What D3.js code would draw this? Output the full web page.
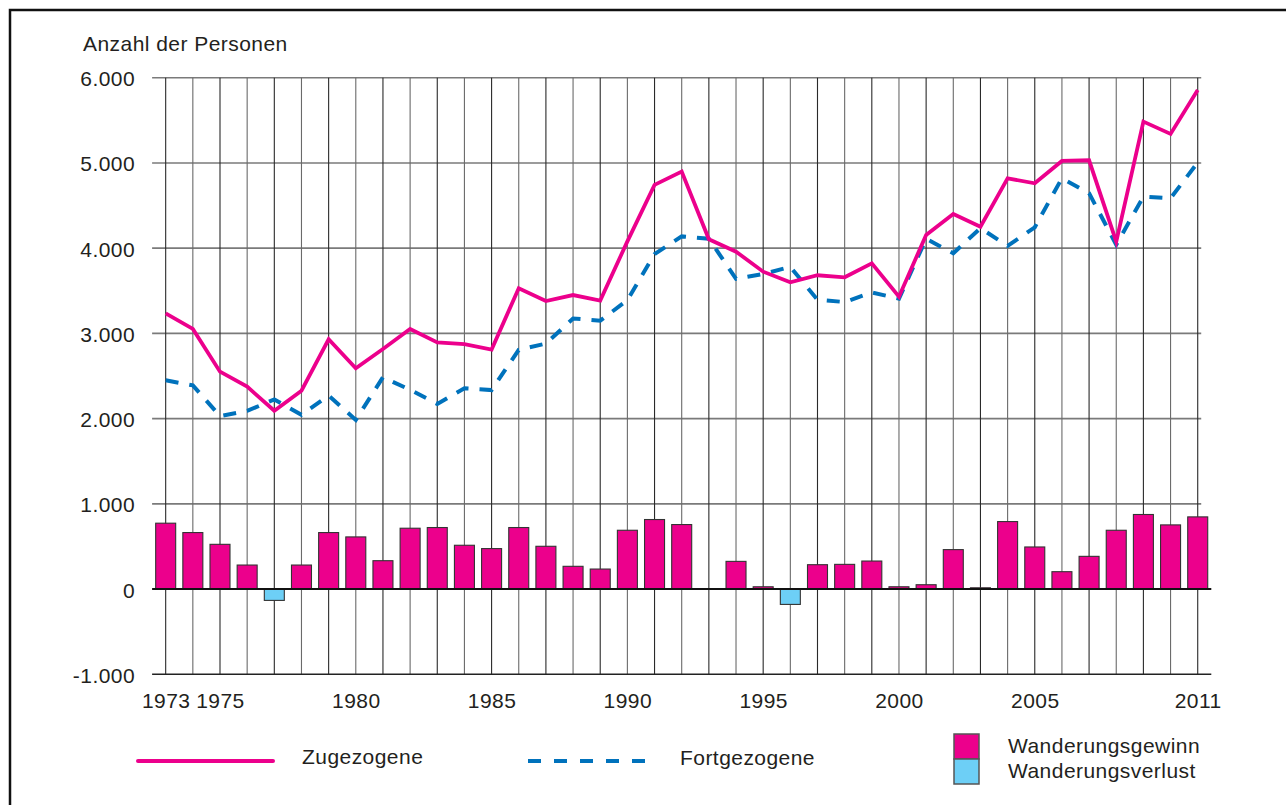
<!DOCTYPE html>
<html>
<head>
<meta charset="utf-8">
<script src="https://cdn.jsdelivr.net/npm/d3@7"></script>
<style>
  html, body { margin: 0; padding: 0; background: #fff; }
  svg { display: block; }
  text { font-family: "Liberation Sans", Arial, Helvetica, sans-serif; fill: #231F20; letter-spacing: 0.45px; }
</style>
</head>
<body>
<svg id="chart" width="1286" height="805"></svg>
<script>
// ---- Data ----
const years = [1973,1974,1975,1976,1977,1978,1979,1980,1981,1982,1983,1984,1985,1986,1987,1988,1989,1990,
  1991,1992,1993,1994,1995,1996,1997,1998,1999,2000,2001,2002,2003,2004,2005,2006,2007,2008,2009,2010,2011];
const zugezogene = [3236,3052,2551,2375,2093,2328,2931,2590,2817,3052,2895,2875,2810,3529,3380,3450,3384,4080,
  4742,4898,4104,3959,3724,3600,3682,3658,3822,3431,4155,4401,4252,4820,4761,5023,5031,4076,5485,5340,5857];
const fortgezogene = [2450,2390,2030,2090,2225,2045,2270,1985,2485,2338,2173,2355,2335,2807,2880,3175,3149,3390,
  3930,4138,4110,3640,3697,3780,3394,3368,3480,3408,4110,3940,4235,4027,4245,4820,4645,4040,4605,4586,5005];
const saldo = [773,663,525,282,-133,282,663,612,333,714,722,514,475,722,502,267,235,690,
  816,757,5,325,27,-180,286,290,329,27,51,463,15,792,494,204,384,690,875,753,847];
const yTicks = [-1000,0,1000,2000,3000,4000,5000,6000];
const xTickYears = [1973,1975,1980,1985,1990,1995,2000,2005,2011];
const seriesNames = ["Zugezogene","Fortgezogene"];
const barNames = ["Wanderungsgewinn","Wanderungsverlust"];
const yTitle = "Anzahl der Personen";

// ---- Styles ----
const PINK = "#EC008C", BLUE = "#0072BC", LIGHTBLUE = "#6DCFF6";
const FS = 21;

const svg = d3.select("#chart");
const x = d3.scaleLinear().domain([1972.5, 2011.5]).range([152.1, 1211.3]);
const y = d3.scaleLinear().domain([-1000, 6000]).range([674.3, 77.7]);
const de = d3.formatLocale({decimal: ",", thousands: ".", grouping: [3], currency: ["", "€"], minus: "-"});
const fmt = de.format(",d");

// frame
svg.append("rect").attr("x", 10).attr("y", 10).attr("width", 1300).attr("height", 820)
  .attr("fill", "none").attr("stroke", "#111").attr("stroke-width", 2.5);

// horizontal grid
const g = svg.append("g");
g.selectAll("line.h").data(yTicks.filter(v => v > 0)).join("line")
  .attr("x1", x(1972.5)).attr("x2", x(2011) + 3.5)
  .attr("y1", d => y(d)).attr("y2", d => y(d))
  .attr("stroke", "#7a7a7a").attr("stroke-width", 1.6);

// vertical grid
g.selectAll("line.v").data(years).join("line")
  .attr("x1", d => x(d)).attr("x2", d => x(d))
  .attr("y1", y(6000)).attr("y2", y(-1000))
  .attr("stroke", (d, i) => i % 2 ? "#6a6a6a" : "#2a2a2a").attr("stroke-width", 1.1);

// bottom line
svg.append("line").attr("x1", x(1972.5)).attr("x2", x(2011.5))
  .attr("y1", y(-1000)).attr("y2", y(-1000)).attr("stroke", "#222").attr("stroke-width", 1.6);

// bars
const bw = 20;
svg.append("g").selectAll("rect").data(years.map((yr, i) => ({yr, v: saldo[i]}))).join("rect")
  .attr("x", d => x(d.yr) - bw / 2).attr("width", bw)
  .attr("y", d => y(Math.max(0, d.v)))
  .attr("height", d => Math.abs(y(d.v) - y(0)))
  .attr("fill", d => d.v >= 0 ? PINK : LIGHTBLUE)
  .attr("stroke", "#333").attr("stroke-width", 1.1);

// zero line
svg.append("line").attr("x1", x(1972.5)).attr("x2", x(2011.5))
  .attr("y1", y(0)).attr("y2", y(0)).attr("stroke", "#111").attr("stroke-width", 2);

// lines
const line = d3.line().x((d, i) => x(years[i])).y(d => y(d));
svg.append("path").datum(fortgezogene).attr("d", line)
  .attr("fill", "none").attr("stroke", BLUE).attr("stroke-width", 4)
  .attr("stroke-dasharray", "13,11");
svg.append("path").datum(zugezogene).attr("d", line)
  .attr("fill", "none").attr("stroke", PINK).attr("stroke-width", 3.8)
  .attr("stroke-linejoin", "miter");

// axes (labels)
const yAxis = svg.append("g").attr("transform", `translate(${x(1972.5)},0)`)
  .call(d3.axisLeft(y).tickValues(yTicks).tickSize(0).tickPadding(17).tickFormat(fmt));
yAxis.select(".domain").remove();
yAxis.selectAll("text").style("font-size", FS + "px").style("font-family", "Liberation Sans, Arial, sans-serif")
  .attr("fill", "#231F20").attr("dy", "0.38em");

const xAxis = svg.append("g").attr("transform", `translate(0,${y(-1000)})`)
  .call(d3.axisBottom(x).tickValues(xTickYears).tickSize(0).tickPadding(19).tickFormat(d3.format("d")));
xAxis.select(".domain").remove();
xAxis.selectAll("text").style("font-size", FS + "px").style("font-family", "Liberation Sans, Arial, sans-serif")
  .attr("fill", "#231F20");

// title
svg.append("text").attr("x", 83).attr("y", 51).style("font-size", FS + "px").text(yTitle);

// legend
const lg = svg.append("g");
lg.append("line").attr("x1", 138).attr("x2", 273).attr("y1", 761).attr("y2", 761)
  .attr("stroke", PINK).attr("stroke-width", 4).attr("stroke-linecap", "round");
lg.append("text").attr("x", 302).attr("y", 764).style("font-size", FS + "px").text(seriesNames[0]);
lg.append("line").attr("x1", 528).attr("x2", 650).attr("y1", 761).attr("y2", 761)
  .attr("stroke", BLUE).attr("stroke-width", 4).attr("stroke-dasharray", "13,13");
lg.append("text").attr("x", 680).attr("y", 765).style("font-size", FS + "px").text(seriesNames[1]);
lg.append("rect").attr("x", 954).attr("y", 734).attr("width", 25).attr("height", 25)
  .attr("fill", PINK).attr("stroke", "#555").attr("stroke-width", 1.5);
lg.append("rect").attr("x", 954).attr("y", 759).attr("width", 25).attr("height", 25)
  .attr("fill", LIGHTBLUE).attr("stroke", "#555").attr("stroke-width", 1.5);
lg.append("text").attr("x", 1008).attr("y", 753).style("font-size", FS + "px").text(barNames[0]);
lg.append("text").attr("x", 1008).attr("y", 778).style("font-size", FS + "px").text(barNames[1]);
</script>
</body>
</html>
